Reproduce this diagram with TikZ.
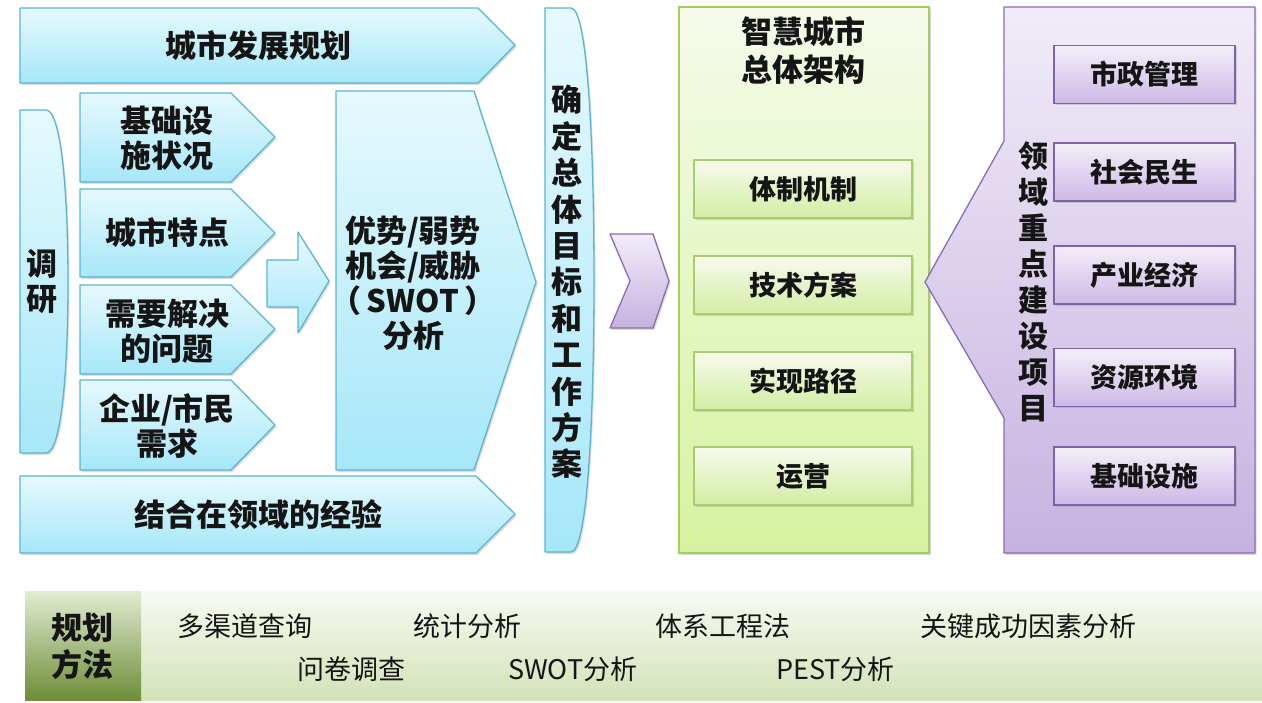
\documentclass[tikz,border=0pt]{standalone}
\usepackage{fontspec}
\setmainfont{Noto Sans CJK SC}
\usetikzlibrary{shadows,shadings}
\definecolor{blueTop}{HTML}{E6F9FE}
\definecolor{blueBot}{HTML}{A6E7F8}
\definecolor{blueLine}{HTML}{5AB4D2}
\definecolor{greenTop}{HTML}{F5FBEA}
\definecolor{greenBot}{HTML}{D6F2A0}
\definecolor{greenLine}{HTML}{A0CF5A}
\definecolor{giTop}{HTML}{F7FBEC}
\definecolor{giBot}{HTML}{D3ECA4}
\definecolor{giLine}{HTML}{A8CC70}
\definecolor{purpleTop}{HTML}{F1ECF8}
\definecolor{purpleBot}{HTML}{C6B2E0}
\definecolor{purpleLine}{HTML}{8C6CB4}
\definecolor{piTop}{HTML}{F4EEF9}
\definecolor{piBot}{HTML}{CDB9E6}
\definecolor{piLine}{HTML}{7E63A6}
\definecolor{bandTop}{HTML}{F7FAF2}
\definecolor{bandBot}{HTML}{D3E2B8}
\definecolor{labelTop}{HTML}{E2ECD2}
\definecolor{labelBot}{HTML}{6E8D37}
\definecolor{ink}{HTML}{151515}
\tikzset{
  softshadow/.style={drop shadow={opacity=0.28, shadow xshift=1.5pt, shadow yshift=-2pt}},
  blueshape/.style={draw=blueLine, line width=1.3pt, line join=round, top color=blueTop, bottom color=blueBot, softshadow},
  greenshape/.style={draw=greenLine, line width=1.3pt, top color=greenTop, bottom color=greenBot, softshadow},
  gbox/.style={draw=giLine, line width=1.2pt, top color=giTop, bottom color=giBot, softshadow,
    minimum width=218pt, minimum height=58pt, inner sep=0pt, text=ink,
    font=\bfseries\fontsize{27}{30}\selectfont},
  purpleshape/.style={draw=purpleLine, line width=1.3pt, line join=round, top color=purpleTop, bottom color=purpleBot, softshadow},
  pbox/.style={draw=piLine, line width=1.2pt, top color=piTop, bottom color=piBot, softshadow,
    minimum width=181pt, minimum height=58pt, inner sep=0pt, text=ink,
    font=\bfseries\fontsize{27}{30}\selectfont},
  lbl/.style={inner sep=0pt, align=center, text=ink, font=\bfseries\fontsize{31}{35}\selectfont},
  vlbl/.style={inner sep=0pt, align=center, text=ink, font=\bfseries\fontsize{31}{36.4}\selectfont},
  method/.style={inner sep=0pt, anchor=west, text=ink, font=\fontsize{27}{30}\selectfont},
}
\begin{document}
\begin{tikzpicture}[x=1pt,y=-1pt]
\useasboundingbox (0,0) rectangle (1262,703);
\fill[white] (0,0) rectangle (1262,703);

% --- top and bottom long arrows
\path[blueshape] (20,8) -- (478,8) -- (515,45) -- (478,83) -- (20,83) -- cycle;
\node[lbl] (plan) at (258,46) {城市发展规划};
\path[blueshape] (20,476) -- (476,476) -- (515,514) -- (476,553) -- (20,553) -- cycle;
\node[lbl] (exp) at (258,515) {结合在领域的经验};

% --- research block
\path[blueshape] (20,110) -- (46,110) .. controls (62,110) and (68,200) .. (68,282)
  .. controls (68,365) and (62,453) .. (46,453) -- (20,453) -- cycle;
\node[vlbl, font=\bfseries\fontsize{31}{35}\selectfont] (res) at (42,282) {调\\研};

% --- four small arrows
\path[blueshape] (80,93) -- (231,93) -- (275,137) -- (231,182) -- (80,182) -- cycle;
\node[lbl] (s1) at (167,138) {基础设\\施状况};
\path[blueshape] (80,189) -- (231,189) -- (275,233) -- (231,277) -- (80,277) -- cycle;
\node[lbl] (s2) at (167,233) {城市特点};
\path[blueshape] (80,285) -- (231,285) -- (275,329) -- (231,374) -- (80,374) -- cycle;
\node[lbl] (s3) at (167,331) {需要解决\\的问题};
\path[blueshape] (80,380) -- (231,380) -- (275,425) -- (231,470) -- (80,470) -- cycle;
\node[lbl] (s4) at (167,426) {企业/市民\\需求};

% --- block arrow
\path[blueshape] (267,260) -- (298,260) -- (298,232) -- (329,281) -- (298,333) -- (298,307) -- (267,307) -- cycle;

% --- SWOT
\path[blueshape] (336,91) -- (474,91) -- (536,282) -- (474,470) -- (336,470) -- cycle;
\node[lbl] (swot) at (413,283) {优势/弱势\\机会/威胁\\（\,SWOT\,）\\分析};

% --- goals block
\path[blueshape] (545,8) -- (571,8) .. controls (588,8) and (594,150) .. (594,280)
  .. controls (594,410) and (588,552) .. (571,552) -- (545,552) -- cycle;
\node[vlbl] (goal) at (567,282) {确\\定\\总\\体\\目\\标\\和\\工\\作\\方\\案};

% --- chevron
\path[purpleshape] (610,234) -- (653,234) -- (669,281) -- (653,328) -- (610,328) -- (630,281) -- cycle;

% --- green architecture box
\path[greenshape] (679,7) rectangle (929,553);
\node[lbl, font=\bfseries\fontsize{31}{38}\selectfont] (arch) at (803,51) {智慧城市\\总体架构};
\node[gbox] (g1) at (803,189) {体制机制};
\node[gbox] (g2) at (803,285) {技术方案};
\node[gbox] (g3) at (803,381) {实现路径};
\node[gbox] (g4) at (803,476) {运营};

% --- purple project box with callout
\path[purpleshape] (1004,7) -- (1255,7) -- (1255,553) -- (1004,553) -- (1004,418) -- (925,282) -- (1004,141) -- cycle;
\node[vlbl, font=\bfseries\fontsize{30}{36}\selectfont] (proj) at (1033,282) {领\\域\\重\\点\\建\\设\\项\\目};
\node[pbox] (p1) at (1144.5,74.5) {市政管理};
\node[pbox] (p2) at (1144.5,172) {社会民生};
\node[pbox] (p3) at (1144.5,275) {产业经济};
\node[pbox] (p4) at (1144.5,377.5) {资源环境};
\node[pbox] (p5) at (1144.5,476) {基础设施};

% --- bottom band
\path[top color=bandTop, bottom color=bandBot] (25,591) rectangle (1262,700);
\path[top color=labelTop, bottom color=labelBot] (25,591) rectangle (141,700);
\node[lbl, font=\bfseries\fontsize{31}{37}\selectfont] (mlabel) at (82,646) {规划\\方法};
\node[method] (m1) at (177,626) {多渠道查询};
\node[method] (m2) at (413,626) {统计分析};
\node[method] (m3) at (655,626) {体系工程法};
\node[method] (m4) at (920,626) {关键成功因素分析};
\node[method] (m5) at (297,669) {问卷调查};
\node[method] (m6) at (508,669) {SWOT分析};
\node[method] (m7) at (776,669) {PEST分析};
\end{tikzpicture}
\end{document}
